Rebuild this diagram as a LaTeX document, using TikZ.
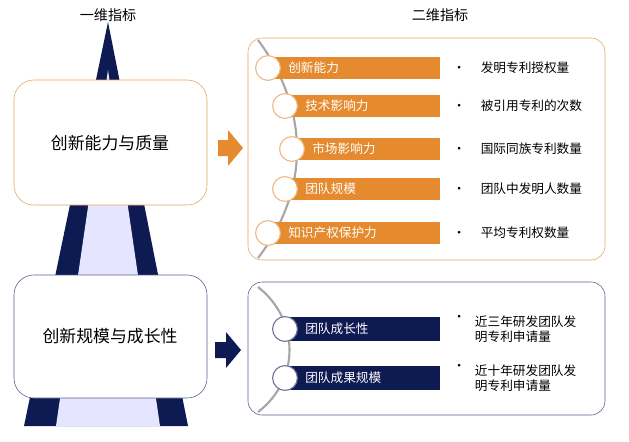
\documentclass[tikz,border=0pt]{standalone}
\usepackage{fontspec}
\setmainfont{Noto Sans CJK SC}
\definecolor{navy}{HTML}{0E1A52}
\definecolor{orng}{HTML}{E58A2E}
\tikzset{
  barbox/.style={minimum height=0.55cm,text=white,font=\small,anchor=west,inner sep=0pt},
  dotc/.style={circle,fill=white,draw=#1!60,line width=0.8pt,minimum size=0.62cm,inner sep=0pt},
  note/.style={anchor=west,font=\small,align=left}
}
\begin{document}
\begin{tikzpicture}[x=0.025cm,y=-0.025cm]
  \useasboundingbox (0,0) rectangle (629,441);
  % titles
  \node (t1) at (108,15) {一维指标};
  \node (t2) at (440,15) {二维指标};
  % pyramid
  \fill[navy] (108,22) -- (188,426) -- (24,426) -- cycle;
  \fill[blue!10!white] (108,70) -- (160,426) -- (56,426) -- cycle;
  % left boxes
  \draw[orng!80,fill=white,rounded corners=14pt] (14,80) rectangle (207,205);
  \node (q1) at (110,143) {\large 创新能力与质量};
  \draw[navy!70,fill=white,rounded corners=14pt] (14,275) rectangle (207,398);
  \node (q2) at (110,336) {\large 创新规模与成长性};
  % arrows
  \fill[orng] (218,140) -- (228,140) -- (228,130) -- (243,148) -- (228,166) -- (228,156) -- (218,156) -- cycle;
  \fill[navy] (215,342) -- (226,342) -- (226,332) -- (241,350) -- (226,368) -- (226,358) -- (215,358) -- cycle;
  % right boxes
  \draw[orng!80,rounded corners=10pt] (248,38) rectangle (605,260);
  \draw[gray!70,line width=1.5pt] (258,40) .. controls (310,110) and (310,190) .. (258,258);
  \draw[navy!70,rounded corners=10pt] (248,282) rectangle (605,415);
  \draw[gray!70,line width=1.5pt] (258,287) .. controls (300,320) and (300,380) .. (258,412);
  % orange bars
  \foreach \x/\y/\txt/\nt in {268/68/创新能力/发明专利授权量, 285/106/技术影响力/被引用专利的次数,
      292/149/市场影响力/国际同族专利数量, 285/189/团队规模/团队中发明人数量,
      268/233/知识产权保护力/平均专利权数量}{
    \fill[orng] (\x,\y-11) rectangle (440,\y+11);
    \node[dotc=orng] at (\x,\y) {};
    \node[barbox] at (\x+20,\y) {\txt};
    \node[note] at (448,\y) {•\hspace{1.2em}\nt};
  }
  % navy bars
  \foreach \y/\txt in {329/团队成长性, 378/团队成果规模}{
    \fill[navy] (285,\y-12) rectangle (440,\y+12);
    \node[dotc=navy] at (285,\y) {};
    \node[barbox] at (305,\y) {\txt};
  }
  \node[note] (n1) at (448,318) {•};
  \node[note] at (470,329) {近三年研发团队发\\明专利申请量};
  \node[note] (n2) at (448,367) {•};
  \node[note] at (470,378) {近十年研发团队发\\明专利申请量};
\end{tikzpicture}
\end{document}
